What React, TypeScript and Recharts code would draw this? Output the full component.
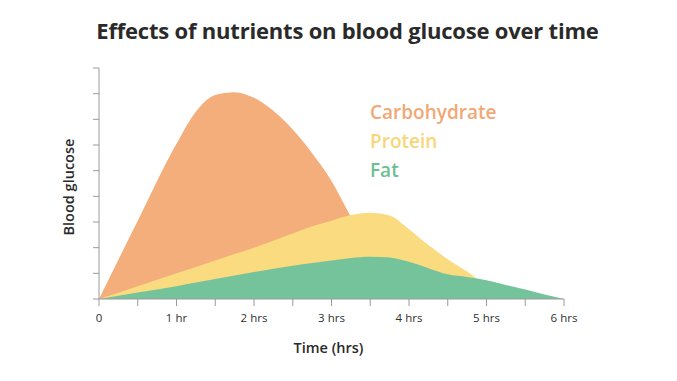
import { AreaChart, Area, XAxis, YAxis } from 'recharts'

const hours = [0, 0.5, 1, 1.25, 1.5, 1.75, 2, 2.25, 2.5, 2.75, 3, 3.25, 3.5, 3.75, 4, 4.25, 4.5, 4.75, 5, 5.25, 5.5, 5.75, 6]
const carbohydrate = [0, 3.05, 6.05, 7.3, 7.95, 8.06, 7.84, 7.33, 6.6, 5.68, 4.6, 3.2, 1.8, 0.9, 0.3, 0, 0, 0, 0, 0, 0, 0, 0]
const protein = [0, 0.5, 1.0, 1.25, 1.5, 1.75, 2.0, 2.27, 2.55, 2.83, 3.05, 3.27, 3.36, 3.25, 2.72, 2.1, 1.55, 1.07, 0.55, 0.25, 0, 0, 0]
const fat = [0, 0.25, 0.5, 0.64, 0.78, 0.92, 1.05, 1.18, 1.3, 1.4, 1.5, 1.6, 1.65, 1.62, 1.45, 1.2, 0.96, 0.86, 0.73, 0.55, 0.37, 0.18, 0]
const xTicks = [0, 0.5, 1, 1.5, 2, 2.5, 3, 3.5, 4, 4.5, 5, 5.5, 6]
const yTicks = [0, 1, 2, 3, 4, 5, 6, 7, 8, 9]
const legendItems = [
  { name: 'Carbohydrate', color: '#F1A874' },
  { name: 'Protein', color: '#F7D679' },
  { name: 'Fat', color: '#6DBE93' },
]

const data = hours.map((h, i) => ({ h, carbohydrate: carbohydrate[i], protein: protein[i], fat: fat[i] }))

const font = '"Open Sans", Lato, sans-serif'

function hourLabel(v: number) {
  if (v % 1 !== 0) return ''
  if (v === 0) return '0'
  return v === 1 ? '1 hr' : `${v} hrs`
}

export default function App() {
  return (
    <div style={{ position: 'absolute', left: 0, top: 0, width: 677, height: 381, background: '#fff', fontFamily: font }}>
      <div style={{ position: 'absolute', left: 0, width: 695, top: 15, textAlign: 'center', fontSize: 22, fontWeight: 700, color: '#2a2a2a', letterSpacing: -0.2 }}>
        Effects of nutrients on blood glucose over time
      </div>
      <AreaChart width={677} height={381} data={data} margin={{ top: 68, right: 113, bottom: 52, left: 39 }}>
        <XAxis
          dataKey="h"
          type="number"
          domain={[0, 6]}
          ticks={xTicks}
          tickFormatter={hourLabel}
          tickSize={7}
          tickMargin={8}
          interval={0}
          stroke="#9a9a9a"
          tick={{ fill: '#2f2f2f', fontSize: 11.5, fontFamily: font }}
        />
        <YAxis
          type="number"
          domain={[0, 9]}
          ticks={yTicks}
          tickSize={6}
          interval={0}
          tickFormatter={() => ''}
          stroke="#9a9a9a"
          label={{ value: 'Blood glucose', angle: -90, position: 'insideLeft', dx: 25, dy: 52, fill: '#2a2a2a', fontSize: 14.5, fontWeight: 600, fontFamily: font }}
        />
        <Area type="monotone" dataKey="carbohydrate" stroke="none" fill="#F4AE7B" fillOpacity={1} isAnimationActive={false} />
        <Area type="monotone" dataKey="protein" stroke="none" fill="#FBDB80" fillOpacity={1} isAnimationActive={false} />
        <Area type="monotone" dataKey="fat" stroke="none" fill="#74C39A" fillOpacity={1} isAnimationActive={false} />
      </AreaChart>
      <div style={{ position: 'absolute', left: 0, width: 657, top: 338, textAlign: 'center', fontSize: 14.5, fontWeight: 600, color: '#2a2a2a' }}>
        Time (hrs)
      </div>
      {legendItems.map((item, i) => (
        <div key={item.name} style={{ position: 'absolute', left: 370, top: 99 + i * 29, fontSize: 19, fontWeight: 600, color: item.color }}>
          {item.name}
        </div>
      ))}
    </div>
  )
}
